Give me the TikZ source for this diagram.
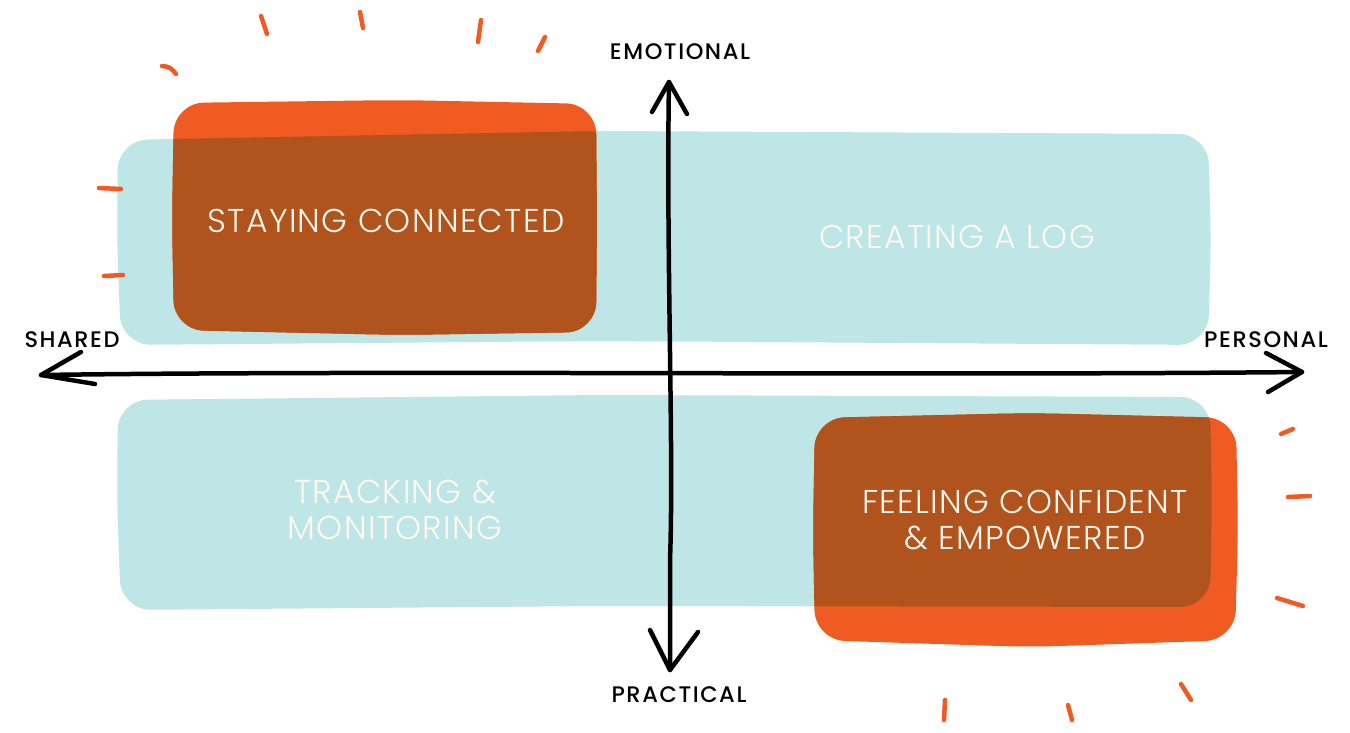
\documentclass[tikz,border=0pt]{standalone}
\usepackage{fontspec}
\setmainfont{Poppins}
\newfontfamily\thinfont{Poppins}[UprightFont={* Light},LetterSpace=4]
\newfontfamily\medfont{Poppins}[UprightFont={* Medium},LetterSpace=7]
\definecolor{teal}{HTML}{BEE6E6}
\definecolor{orng}{HTML}{F05B23}
\definecolor{brwn}{HTML}{B0531C}
\definecolor{cream}{HTML}{FFF8EE}
\begin{document}
\begin{tikzpicture}[x=1pt,y=-1pt,
  axis/.style={line width=4.5pt,line cap=round,line join=round,black},
  tick/.style={line width=4.5pt,line cap=round,orng},
  boxtext/.style={text=cream,font=\thinfont\fontsize{33}{36}\selectfont,align=center},
  axislabel/.style={text=black,font=\medfont\fontsize{22.5}{24}\selectfont}]
\useasboundingbox (0,0) rectangle (1350,732);
\fill[white] (0,0) rectangle (1350,732);
% paths
\def\toptealpath{(118,140) -- (600,131) -- (1208,134) -- (1211,240) -- (1208,345) -- (600,341) -- (121,345) -- (117,240) -- cycle}
\def\bottealpath{(118,400) -- (600,395) -- (1210,397) -- (1212,500) -- (1210,607) -- (600,606) -- (121,610) -- (117,500) -- cycle}
\def\tlorangepath{(174,103) -- (400,100) -- (596,104) -- (597,220) -- (596,332) -- (400,335) -- (174,330) -- (172,220) -- cycle}
\def\brorangepath{(815,418) -- (1030,413) -- (1236,418) -- (1238,530) -- (1235,640) -- (1030,647) -- (815,640) -- (813,530) -- cycle}
\fill[teal,rounded corners=30pt] \toptealpath;
\fill[teal,rounded corners=30pt] \bottealpath;
\fill[orng,rounded corners=30pt] \tlorangepath;
\fill[orng,rounded corners=30pt] \brorangepath;
\begin{scope}
  \clip[rounded corners=30pt] \toptealpath;
  \fill[brwn,rounded corners=30pt] \tlorangepath;
\end{scope}
\begin{scope}
  \clip[rounded corners=30pt] \bottealpath;
  \fill[brwn,rounded corners=30pt] \brorangepath;
\end{scope}
% box texts
\node[boxtext] (staying) at (386,221) {STAYING CONNECTED};
\node[boxtext] (log) at (957,237) {CREATING A LOG};
\node[boxtext] (tracking) at (395,510) {TRACKING \&\\MONITORING};
\node[boxtext] (feeling) at (1025,520) {FEELING CONFIDENT\\\& EMPOWERED};
% axis labels
\node[axislabel] (emo) at (680,52) {EMOTIONAL};
\node[axislabel] (prac) at (679,695) {PRACTICAL};
\node[axislabel] (shared) at (72,340) {SHARED};
\node[axislabel] (pers) at (1266,340) {PERSONAL};
% axes
\coordinate (up) at (669,82);
\coordinate (down) at (670,670);
\coordinate (left) at (41,375);
\coordinate (right) at (1302,372);
\draw[axis] (up) .. controls (666,250) and (674,450) .. (670,560) -- (down);
\draw[axis] (652,112) -- (up) -- (687,114);
\draw[axis] (650,630) -- (down) -- (698,632);
\draw[axis] (left) .. controls (400,370) and (900,376) .. (right);
\draw[axis] (81,352) -- (left) -- (95,384);
\draw[axis] (1266,353) -- (right) -- (1268,392);
% ticks
\draw[tick] (261,16) -- (267,34);
\draw[tick] (360,12) -- (363,28);
\draw[tick] (481,20) -- (478,42);
\draw[tick] (545,37) -- (538,51);
\draw[tick] (162,66) .. controls (170,67) .. (176,74);
\draw[tick] (99,188) -- (121,189);
\draw[tick] (104,276) -- (123,275);
\draw[tick] (1281,434) -- (1293,429);
\draw[tick] (1288,497) -- (1310,496);
\draw[tick] (1277,598) -- (1303,606);
\draw[tick] (945,700) -- (944,720);
\draw[tick] (1068,705) -- (1072,720);
\draw[tick] (1181,684) -- (1191,700);
\end{tikzpicture}
\end{document}
